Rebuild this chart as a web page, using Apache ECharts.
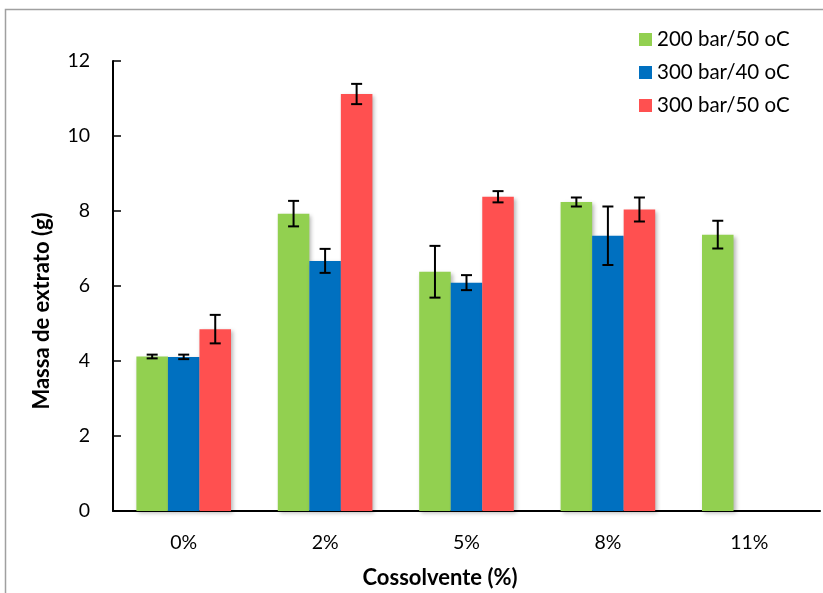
<!DOCTYPE html>
<html>
<head>
<meta charset="utf-8">
<script src="https://cdn.jsdelivr.net/npm/echarts@6/dist/echarts.min.js"></script>
<style>
  html, body { margin: 0; padding: 0; background: #fff; }
  #chart { width: 823px; height: 593px; }
</style>
</head>
<body>
<div id="chart"></div>
<script>
// Cosolvent percentages on the x axis
const categories = ['0%', '2%', '5%', '8%', '11%'];

// Extract mass (g) per condition; null where no run was made
const seriesNames = ['200 bar/50 oC', '300 bar/40 oC', '300 bar/50 oC'];
const mass200b50 = [4.12, 7.93, 6.38, 8.24, 7.37];
const mass300b40 = [4.11, 6.67, 6.09, 7.34, null];
const mass300b50 = [4.85, 11.12, 8.38, 8.04, null];

// Standard deviations (g) drawn as error bars
const err200b50 = [0.05, 0.34, 0.69, 0.12, 0.37];
const err300b40 = [0.06, 0.32, 0.20, 0.78, null];
const err300b50 = [0.38, 0.27, 0.15, 0.32, null];

const yTicks = [0, 2, 4, 6, 8, 10, 12];

const colors = ['#92d050', '#0070c0', '#ff5050'];
const values = [mass200b50, mass300b40, mass300b50];
const errors = [err200b50, err300b40, err300b50];

const BAR_FRACTION = 0.223;
const FONT = 'Lato, "Liberation Sans", sans-serif';

const chart = echarts.init(document.getElementById('chart'), null, { renderer: 'canvas' });

const barSeries = values.map((vals, i) => ({
  name: seriesNames[i],
  type: 'bar',
  data: vals,
  barWidth: (BAR_FRACTION * 100) + '%',
  barGap: '0%',
  itemStyle: {
    color: colors[i],
    shadowColor: 'rgba(0,0,0,0.28)',
    shadowBlur: 4,
    shadowOffsetX: 2,
    shadowOffsetY: 2
  },
  z: 2
}));

// Error bars: one custom series per condition, placed over its bar slot
const errorSeries = values.map((vals, i) => ({
  type: 'custom',
  name: seriesNames[i] + ' sd',
  data: vals.map((v, k) => v == null ? [k, null, null] : [k, v, errors[i][k]]),
  encode: { x: 0, y: 1 },
  z: 5,
  silent: true,
  renderItem: function (params, api) {
    const val = api.value(1);
    const sd = api.value(2);
    if (val == null || isNaN(val) || sd == null || isNaN(sd)) return null;
    const k = api.value(0);
    const band = api.size([1, 0])[0];
    const dx = (i - 1) * band * BAR_FRACTION;
    const hi = api.coord([k, val + sd]);
    const lo = api.coord([k, val - sd]);
    const x = hi[0] + dx;
    const cap = 5.5;
    const style = { stroke: '#000', lineWidth: 2 };
    return {
      type: 'group',
      children: [
        { type: 'line', shape: { x1: x, y1: hi[1], x2: x, y2: lo[1] }, style: style },
        { type: 'line', shape: { x1: x - cap, y1: hi[1], x2: x + cap, y2: hi[1] }, style: style },
        { type: 'line', shape: { x1: x - cap, y1: lo[1], x2: x + cap, y2: lo[1] }, style: style }
      ]
    };
  }
}));

chart.setOption({
  animation: false,
  backgroundColor: '#fff',
  textStyle: { fontFamily: FONT },
  grid: { left: 113, right: 3, top: 61, bottom: 82, containLabel: false },
  legend: {
    data: seriesNames,
    orient: 'vertical',
    left: 639,
    top: 29,
    padding: 0,
    icon: 'rect',
    itemWidth: 13,
    itemHeight: 13,
    itemGap: 12,
    textStyle: { fontFamily: FONT, fontSize: 20.5, color: '#000', lineHeight: 20 }
  },
  xAxis: {
    type: 'category',
    data: categories,
    axisLine: { lineStyle: { color: '#000', width: 2 } },
    axisTick: { inside: true, length: 8, lineStyle: { color: '#000', width: 1.5 } },
    axisLabel: { color: '#000', fontSize: 19.5, fontFamily: FONT, margin: 22 },
    splitLine: { show: false }
  },
  yAxis: {
    type: 'value',
    min: yTicks[0],
    max: yTicks[yTicks.length - 1],
    interval: yTicks[1] - yTicks[0],
    axisLine: { show: true, lineStyle: { color: '#000', width: 2 } },
    axisTick: { show: true, inside: true, length: 8, lineStyle: { color: '#000', width: 1.5 } },
    axisLabel: { color: '#000', fontSize: 19.5, fontFamily: FONT, margin: 23 },
    splitLine: { show: false }
  },
  graphic: [
    {
      type: 'rect',
      shape: { x: 5.5, y: 9.5, width: 840, height: 600 },
      style: { fill: 'none', stroke: '#a0a0a0', lineWidth: 1.5 },
      silent: true
    },
    {
      type: 'text',
      x: 440,
      y: 578,
      style: {
        text: 'Cossolvente (%)',
        font: 'bold 22px ' + FONT,
        fill: '#000',
        align: 'center',
        verticalAlign: 'middle'
      }
    },
    {
      type: 'text',
      x: 42,
      y: 311,
      rotation: Math.PI / 2,
      style: {
        text: 'Massa de extrato (g)',
        font: 'bold 22px ' + FONT,
        fill: '#000',
        align: 'center',
        verticalAlign: 'middle'
      }
    }
  ],
  series: barSeries.concat(errorSeries)
});
</script>
</body>
</html>
